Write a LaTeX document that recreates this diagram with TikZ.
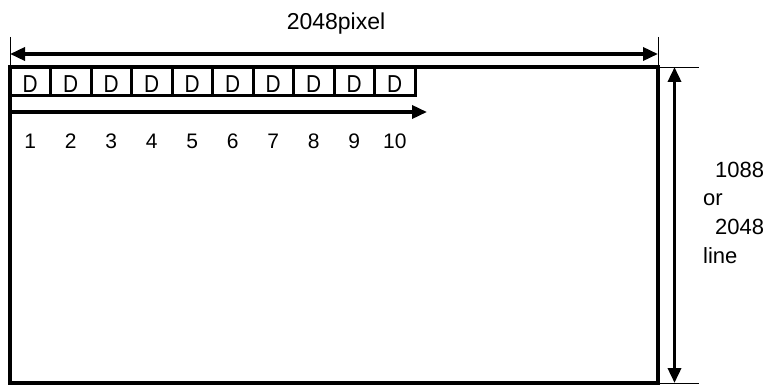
\documentclass[tikz,border=0pt]{standalone}
\usepackage{fontspec}
\setmainfont{Liberation Sans}
\newfontfamily\narrowfont[FakeStretch=0.85]{Liberation Sans}
\usetikzlibrary{arrows.meta}
\begin{document}
\begin{tikzpicture}[x=1pt,y=-1pt,
  frame/.style={line width=3.5pt},
  extline/.style={line width=0.9pt},
  dimarrow/.style={line width=3.5pt,-{Triangle[length=15pt,width=13pt]}},
  dimboth/.style={line width=3.5pt,{Triangle[length=15pt,width=13pt]}-{Triangle[length=15pt,width=13pt]}},
  cell/.style={draw,line width=3pt,minimum width=40.5pt,minimum height=28.5pt,inner sep=0pt},
  dtext/.style={inner sep=0pt,font=\narrowfont\fontsize{24.5}{28}\selectfont},
  lbl/.style={inner sep=0pt,font=\fontsize{21}{24}\selectfont},
  rlbl/.style={inner sep=0pt,font=\fontsize{22}{26}\selectfont},
  title/.style={inner sep=0pt,font=\fontsize{23}{26}\selectfont}
]
\useasboundingbox (0,0) rectangle (768,385);
% frame
\coordinate (TL) at (10,67);
\coordinate (BR) at (658,383);
\coordinate (TR) at (658,67);
\draw[frame] (TL) rectangle (BR);
% extension lines
\coordinate (L0) at (10,37);
\coordinate (R0) at (658,37);
\coordinate (RT) at (699,67);
\coordinate (RB) at (699,383);
\draw[extline] (L0) -- (TL);
\draw[extline] (R0) -- (TR);
\draw[extline] (TR) -- (RT);
\draw[extline] (BR) -- (RB);
% dimension arrows
\coordinate (HA) at (10,54);
\coordinate (HB) at (658,54);
\draw[dimboth] (HA) -- (HB);
\coordinate (VA) at (674.5,67);
\coordinate (VB) at (674.5,383);
\draw[dimboth] (VA) -- (VB);
\node[title] (w) at (336,24) {2048pixel};
% right label
\node[rlbl,anchor=base west] (h1) at (715,177) {1088};
\node[rlbl,anchor=base west] (h2) at (703,205) {or};
\node[rlbl,anchor=base west] (h3) at (715,234) {2048};
\node[rlbl,anchor=base west] (h4) at (703,263) {line};
% D cells and numbers
\foreach \i in {1,...,10}{
  \pgfmathsetmacro{\cx}{30.25+40.5*(\i-1)}
  \node[cell] (d\i) at (\cx,81.5) {};
  \node[dtext,anchor=base] (t\i) at (\cx,92.5) {D};
  \node[lbl,anchor=base] (n\i) at (\cx,149) {\i};
}
% scan arrow
\coordinate (SA) at (10,112);
\coordinate (SB) at (427,112);
\draw[dimarrow] (SA) -- (SB);
\end{tikzpicture}
\end{document}
